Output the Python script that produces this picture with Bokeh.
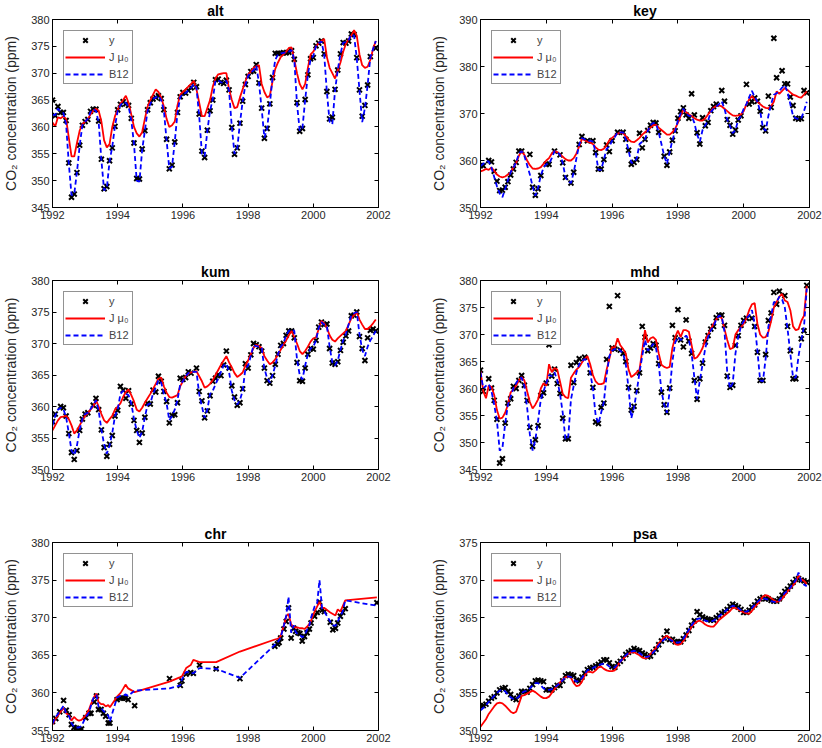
from bokeh.plotting import figure
from bokeh.layouts import column, row
from bokeh.models import Range1d, FixedTicker, LinearAxis
from bokeh.embed import file_html
from bokeh.resources import INLINE

FONT = "Liberation Sans"
N = None

# monthly time axis Jan 1992 .. Dec 2001
months = [1992 + i / 12 for i in range(120)]
x_ticks = [1992, 1994, 1996, 1998, 2000, 2002]

# ---------------- alt ----------------
alt_y = [
    365.0, 362.1, 363.8, 362.7, 362.7, 361.2, 353.3, 346.9, 347.5, 351.5, 356.6, 360.3,
    361.0, 361.4, 362.9, 363.3, 363.3, 361.1, 354.0, 348.5, 348.9, 353.7, 356.1, 360.1,
    363.2, 364.2, 364.7, 364.3, 364.0, 361.6, 357.0, 350.4, 350.3, 355.9, 359.3, 363.2,
    364.5, 365.2, 365.5, 365.8, 365.3, 363.2, 357.7, 352.2, 352.9, 357.2, 362.7, 365.6,
    366.4, 366.3, 366.8, 367.3, 368.3, 367.5, 362.4, 355.5, 354.3, 359.4, 363.0, 365.0,
    368.8, 368.9, 368.3, 368.1, 368.7, 366.9, 359.9, 354.9, 356.1, 360.7, 364.8, 367.9,
    369.4, 370.3, 370.4, 371.6, 368.2, 363.5, 357.9, 359.7, 364.3, 369.2, 373.7, 373.7,
    373.7, 373.8, 373.8, 373.9, 374.2, 372.6, 364.5, 359.2, 359.7, 365.1, 369.7, 372.7,
    372.9, 375.1, 375.6, 376.0, 373.6, 366.6, 361.5, 361.8, 367.0, 370.6, 373.6, 375.7,
    375.6, 376.0, 377.3, 377.2, 372.9, 366.9, 362.0, 364.0, 367.8, 373.1, N, 374.7,
]
alt_j = [
    360.8, 360.1, 361.8, 361.6, 362.0, 361.5, 358.0, 354.5, 354.5, 357.0, 359.3, 360.5,
    361.0, 361.5, 362.3, 363.0, 363.4, 363.0, 361.0, 357.5, 356.2, 356.8, 360.0, 362.0,
    363.2, 364.3, 365.0, 365.8, 364.5, 362.3, 360.0, 358.8, 358.2, 359.0, 361.5, 363.8,
    365.0, 366.0, 367.0, 366.5, 365.5, 363.8, 361.5, 360.0, 360.3, 361.0, 364.0, 366.0,
    366.5, 367.0, 367.5, 368.0, 368.6, 367.0, 364.5, 362.0, 362.0, 363.5, 365.0, 367.5,
    369.0, 369.8, 369.9, 370.0, 370.0, 367.0, 365.0, 363.5, 363.7, 365.5, 367.0, 368.5,
    369.8, 370.3, 371.0, 371.3, 371.5, 368.0, 366.5, 365.5, 365.8, 368.5, 370.8, 372.0,
    373.0, 373.5, 374.0, 374.7, 374.8, 372.5, 370.0, 368.0, 367.0, 368.0, 371.0, 373.5,
    374.0, 375.0, 375.6, 376.0, 376.4, 373.0, 371.0, 370.0, 369.0, 370.5, 372.0, 374.0,
    375.5, 376.3, 377.0, 378.0, 377.0, 373.5, 371.5, 371.0, 371.2, 372.5, 374.5, 376.0,
]
alt_b = [
    362.3, 362.2, 363.4, 362.8, 362.6, 360.5, 353.2, 347.3, 347.5, 351.6, 356.5, 360.3,
    361.0, 361.5, 362.8, 363.3, 363.0, 360.8, 353.8, 348.2, 348.6, 353.6, 356.3, 360.2,
    363.0, 364.0, 364.6, 364.5, 363.8, 361.3, 356.8, 350.0, 349.8, 355.7, 359.3, 363.0,
    364.3, 365.2, 365.5, 365.8, 365.0, 363.0, 357.5, 352.2, 352.6, 357.2, 362.6, 365.5,
    366.2, 366.3, 366.8, 367.3, 368.0, 367.3, 362.0, 355.0, 354.5, 359.3, 363.0, 365.2,
    368.6, 368.7, 368.3, 368.2, 368.6, 366.7, 360.0, 355.0, 356.0, 360.7, 364.8, 367.8,
    369.5, 370.2, 370.5, 371.4, 368.2, 363.3, 358.0, 359.7, 364.2, 369.2, 372.5, 373.5,
    373.7, 373.8, 373.9, 374.0, 374.3, 372.5, 364.3, 359.3, 359.8, 365.0, 369.7, 372.6,
    373.2, 375.0, 375.6, 375.9, 373.5, 366.5, 361.0, 360.5, 366.8, 370.6, 373.6, 375.7,
    375.8, 376.2, 377.2, 377.0, 372.8, 366.8, 360.9, 363.5, 367.8, 373.0, 374.5, 376.0,
]

# ---------------- key ----------------
key_y = [
    358.9, 358.9, N, 360.0, 359.7, 357.7, 355.6, 353.6, 353.7, 354.3, 355.5, 356.9,
    358.2, 359.6, 362.0, 362.0, N, N, 361.3, 354.3, 352.6, 354.0, 356.8, N,
    359.2, 359.2, N, 362.0, N, 361.2, 359.5, 356.4, N, 355.2, 357.5, N,
    363.4, 365.1, N, 364.2, N, 364.2, 361.7, 358.2, 358.2, 360.2, 363.3, 361.9,
    364.2, N, 366.0, N, 366.0, 364.5, 362.2, 359.2, 359.6, 360.2, 365.8, 362.7,
    364.5, 366.4, 367.5, 368.1, 368.0, 366.0, N, 360.9, 359.0, 361.8, 364.3, 366.3,
    369.0, 370.4, 371.2, 369.7, 369.0, 374.2, 369.7, 365.9, 363.5, 369.1, 367.4, 368.1,
    370.6, 371.5, 372.0, N, 374.9, 372.6, 368.7, 367.5, 365.6, 366.5, 368.6, 369.5,
    N, 376.2, 372.0, 372.5, 373.3, 372.6, 370.5, 367.0, 366.3, 373.7, 371.3, 386.0,
    377.6, N, 379.1, 376.3, 376.3, 373.5, 371.7, 369.0, 368.8, 368.9, 374.9, 374.4,
]
key_j = [
    357.7, 357.9, 358.2, 358.0, 358.5, 357.8, 357.0, 356.6, 356.4, 356.6, 357.0, 357.5,
    358.5, 359.5, 361.0, 362.0, 361.2, 360.0, 359.0, 358.3, 358.2, 358.3, 358.6, 359.3,
    360.0, 360.5, 361.5, 362.0, 361.8, 361.3, 360.8, 360.3, 360.0, 360.0, 360.5, 361.5,
    363.0, 364.6, 364.3, 364.0, 363.8, 363.5, 362.8, 362.3, 362.2, 362.5, 363.3, 364.3,
    364.8, 365.3, 365.7, 366.0, 365.8, 365.2, 364.5, 364.0, 363.9, 364.3, 364.8, 365.5,
    366.0, 366.5, 367.0, 367.5, 367.6, 367.0, 366.5, 366.0, 365.5, 365.5, 366.0, 366.8,
    368.0, 369.5, 370.8, 370.3, 369.8, 369.5, 369.0, 368.7, 368.5, 368.5, 369.0, 369.8,
    370.5, 371.2, 371.6, 371.7, 371.5, 371.0, 370.5, 370.0, 369.6, 369.5, 369.6, 369.8,
    370.5, 372.0, 373.0, 373.7, 373.0, 372.5, 372.0, 371.5, 371.2, 371.1, 371.6, 372.5,
    374.7, 374.2, 374.8, 375.4, 375.0, 374.5, 374.0, 373.8, 373.5, 373.4, 374.0, 374.7,
]
key_b = [
    358.8, 359.3, 359.8, 359.8, 358.5, 356.5, 354.5, 353.0, 352.2, 354.0, 355.8, 357.5,
    358.5, 359.6, 361.5, 362.0, 361.0, 359.0, 357.0, 354.5, 352.5, 354.2, 356.8, 358.5,
    359.2, 359.3, 360.5, 362.0, 361.8, 361.2, 359.5, 356.4, 355.5, 355.2, 357.5, 360.5,
    363.4, 364.8, 364.5, 364.2, 364.2, 364.0, 361.7, 358.0, 358.0, 360.2, 362.5, 363.0,
    364.2, 365.0, 366.0, 366.0, 366.0, 364.5, 362.2, 359.5, 359.6, 360.5, 363.5, 364.0,
    364.5, 366.3, 367.5, 368.0, 367.8, 366.0, 363.5, 361.0, 359.3, 361.8, 364.3, 366.3,
    368.5, 370.0, 371.0, 370.0, 369.5, 369.5, 368.0, 365.5, 364.0, 366.5, 367.5, 368.5,
    370.3, 371.0, 371.5, 372.0, 372.6, 371.0, 368.7, 367.3, 365.8, 366.5, 368.6, 369.5,
    371.0, 372.0, 373.5, 374.8, 373.5, 372.5, 370.5, 367.0, 366.3, 369.5, 372.0, 374.0,
    374.3, 374.8, 375.5, 376.0, 374.5, 372.0, 369.5, 369.0, 368.8, 369.0, 370.5, 372.5,
]

# ---------------- kum ----------------
kum_y = [
    357.6, 358.8, N, 360.0, 359.8, 358.5, 355.7, 352.7, 351.6, 353.0, 356.2, 358.0,
    358.8, 359.0, N, 360.2, 361.3, 359.5, 356.3, 353.5, 352.1, 354.0, 355.4, 358.5,
    359.4, 363.2, 362.6, 361.3, 362.5, 360.4, 357.8, 356.2, 354.3, 355.8, 358.3, 360.5,
    360.4, 362.6, 362.3, 364.8, 364.0, 362.4, 360.8, 357.4, 358.6, 358.7, 360.6, 364.5,
    364.3, 364.6, 365.5, 365.3, N, 366.1, 362.4, 360.9, 358.2, 359.3, 361.7, 364.0,
    364.5, 365.0, 364.9, 366.6, 368.8, 366.1, 363.3, 361.5, 360.2, 360.6, 362.8, 366.8,
    366.1, 368.2, 370.0, 369.8, 369.5, 368.8, 366.1, 364.1, 363.7, 364.9, 366.7, 368.3,
    369.7, 370.0, 371.3, 372.0, 372.0, 370.9, 367.0, 364.1, 364.0, 366.1, 368.3, 369.2,
    369.1, 370.5, 372.6, 373.4, 373.0, 373.1, 369.2, 366.9, 366.7, 367.1, 368.9, 370.2,
    371.2, 372.0, 374.4, 374.5, 375.0, 371.1, 369.2, 367.3, 370.9, 372.1, 372.3, 372.0,
]
kum_j = [
    356.2, 357.0, 357.8, 358.3, 358.4, 358.5, 358.0, 357.0, 355.7, 356.2, 357.0, 357.8,
    358.5, 359.0, 359.5, 360.0, 361.0, 360.0, 358.8, 357.8, 357.4, 358.0, 358.5, 359.5,
    360.0, 360.5, 361.5, 362.3, 362.7, 361.8, 360.8, 359.5, 359.2, 359.8, 360.6, 361.3,
    362.0, 362.8, 363.6, 364.4, 364.6, 363.2, 362.2, 361.5, 361.4, 361.6, 361.8, 363.2,
    364.0, 364.8, 365.2, 365.4, 365.5, 365.6, 364.8, 364.0, 363.0, 363.2, 363.6, 364.2,
    365.0, 365.8, 366.6, 367.3, 368.0, 367.0, 366.2, 365.3, 364.7, 365.0, 365.4, 366.5,
    367.3, 368.3, 369.3, 369.8, 369.6, 369.3, 368.0, 367.3, 366.7, 367.0, 367.5, 368.3,
    369.0, 369.8, 370.5, 371.3, 372.0, 371.0, 370.0, 368.8, 368.3, 368.8, 369.5, 370.3,
    370.8, 371.0, 372.3, 373.6, 373.2, 372.5, 371.3, 370.6, 370.3, 370.8, 371.2, 371.6,
    372.0, 373.0, 374.0, 374.5, 375.0, 373.8, 373.0, 372.3, 372.3, 372.7, 373.2, 373.8,
]
kum_b = [
    357.0, 358.5, 359.5, 359.8, 359.6, 358.3, 355.8, 353.0, 352.3, 353.8, 356.3, 358.0,
    358.8, 359.0, 359.6, 360.2, 361.0, 359.3, 356.3, 354.0, 352.5, 353.8, 355.8, 358.5,
    359.5, 362.0, 362.5, 362.0, 361.8, 360.5, 358.0, 356.2, 355.0, 356.0, 358.3, 360.3,
    360.5, 362.0, 363.0, 364.2, 363.8, 362.0, 360.5, 357.8, 358.5, 359.5, 361.0, 363.5,
    364.0, 364.8, 365.3, 365.5, 365.5, 365.5, 362.0, 360.0, 358.2, 359.5, 362.0, 362.5,
    363.5, 364.5, 365.5, 366.5, 366.8, 365.5, 362.5, 361.0, 360.3, 361.0, 362.5, 366.0,
    366.5, 368.0, 369.7, 369.6, 369.5, 369.3, 366.0, 364.5, 363.8, 365.0, 366.5, 368.3,
    369.5, 370.0, 371.3, 372.0, 372.2, 372.0, 367.5, 365.0, 364.3, 366.5, 368.3, 369.2,
    369.5, 370.5, 372.5, 373.4, 373.0, 372.8, 369.5, 367.0, 366.5, 367.3, 369.0, 370.5,
    371.5, 373.0, 374.5, 374.8, 375.0, 371.5, 369.0, 368.0, 369.5, 370.5, 371.2, 372.0,
]

# ---------------- mhd ----------------
mhd_y = [
    363.4, 359.5, N, 361.8, 360.1, 357.8, 354.3, 346.2, 347.0, 353.6, 357.3, 358.1,
    360.4, 360.0, 361.5, 362.4, 360.6, 357.8, 352.8, 349.3, 350.5, 353.1, 358.7, 359.2,
    361.0, 368.1, 362.3, 363.6, 360.9, 359.1, 354.5, 350.7, 350.7, 364.3, 361.1, 364.8,
    365.5, N, 365.8, N, 362.9, 360.2, 353.8, 353.5, 356.5, 357.3, 365.4, 375.2,
    367.5, 367.3, 377.2, 367.1, 366.5, 365.0, 360.2, 356.0, 356.7, 359.6, 362.9, 371.5,
    369.5, 367.0, 367.5, 368.3, 368.0, 364.6, 359.3, 357.0, 355.6, 360.1, 371.7, 369.4,
    374.6, 369.0, 367.7, 372.7, 368.8, 366.5, 361.5, 358.0, 361.8, 364.7, 368.6, 369.8,
    371.0, 371.5, 373.1, 373.6, 373.6, 371.7, 362.3, 360.2, 360.6, 368.0, 369.8, 371.7,
    372.6, 373.0, N, 373.0, 371.5, 366.7, 361.5, 361.5, 366.3, 372.6, 374.0, 377.8,
    375.6, 378.0, N, 377.2, 371.5, 367.0, 361.8, 361.8, N, 369.2, 370.7, 379.1,
]
mhd_j = [
    363.2, 359.5, 358.2, 360.5, 360.3, 358.8, 356.0, 354.4, 354.6, 355.5, 357.0, 359.3,
    359.8, 360.5, 361.5, 362.1, 361.5, 359.5, 357.5, 356.3, 357.0, 358.0, 360.0, 361.0,
    360.5, 364.5, 363.0, 363.8, 363.5, 361.3, 359.0, 358.4, 358.2, 362.0, 362.8, 363.5,
    364.0, 364.8, 365.5, 366.0, 364.5, 362.5, 361.3, 360.8, 360.8, 361.0, 363.5, 365.5,
    367.7, 367.5, 369.3, 368.0, 367.3, 366.5, 363.5, 362.1, 362.5, 363.0, 363.5, 367.0,
    370.8, 368.5, 369.3, 369.5, 369.0, 366.5, 364.4, 364.0, 363.8, 364.0, 367.5, 369.5,
    370.7, 369.5, 370.8, 370.8, 370.5, 368.0, 365.5, 365.8, 366.5, 367.5, 369.0, 370.0,
    371.0, 372.0, 372.8, 373.5, 373.0, 371.0, 369.0, 367.3, 367.5, 370.0, 370.8, 371.3,
    372.0, 373.0, 374.5, 375.6, 375.8, 372.0, 370.0, 369.4, 369.5, 370.5, 372.5, 375.0,
    376.0, 377.0, 377.5, 376.3, 376.0, 374.5, 371.5, 370.8, 371.0, 372.5, 373.5, 379.0,
]
mhd_b = [
    363.0, 360.0, 360.5, 360.8, 359.5, 357.0, 354.0, 348.5, 349.0, 353.5, 357.0, 358.5,
    360.0, 361.0, 361.8, 362.0, 360.5, 356.5, 351.5, 348.5, 350.5, 354.0, 358.0, 359.5,
    361.0, 362.5, 362.3, 363.0, 361.5, 359.0, 355.5, 350.5, 351.0, 358.0, 360.5, 363.0,
    364.5, 365.0, 365.5, 365.0, 363.0, 360.0, 355.0, 353.5, 355.5, 357.5, 362.5, 366.0,
    367.0, 367.3, 367.5, 367.0, 366.5, 364.5, 360.0, 354.5, 356.5, 359.5, 363.0, 366.0,
    369.0, 367.0, 367.5, 368.3, 367.5, 364.5, 359.5, 357.0, 355.5, 359.5, 365.0, 368.5,
    369.5, 369.0, 369.3, 369.8, 369.0, 366.5, 362.0, 358.0, 361.5, 364.5, 367.5, 369.5,
    370.8, 371.5, 372.8, 373.5, 373.3, 370.5, 363.0, 360.0, 361.0, 366.5, 369.5, 371.5,
    372.5, 373.0, 373.5, 374.5, 372.0, 367.0, 361.5, 361.3, 365.5, 371.5, 373.5, 376.0,
    376.0, 377.0, 376.5, 375.0, 371.0, 366.5, 362.0, 362.0, 366.0, 369.0, 371.5, 378.5,
]

# ---------------- chr (irregular sampling) ----------------
chr_x = [
    1992.00, 1992.10, 1992.22, 1992.34, 1992.42, 1992.51, 1992.58, 1992.66, 1992.73, 1992.81,
    1992.89, 1993.02, 1993.12, 1993.18, 1993.28, 1993.35, 1993.41, 1993.49, 1993.56, 1993.63,
    1993.71, 1993.76, 1993.98, 1994.09, 1994.16, 1994.24, 1994.32, 1994.52, 1995.59, 1995.92,
    1995.97, 1996.10, 1996.24, 1996.32, 1996.51, 1997.02, 1997.75, 1998.82, 1998.90, 1998.95,
    1999.00, 1999.10, 1999.17, 1999.24, 1999.32, 1999.40, 1999.46, 1999.53, 1999.59, 1999.66,
    1999.73, 1999.81, 1999.88, 1999.93, 2000.04, 2000.12, 2000.19, 2000.27, 2000.34, 2000.52,
    2000.60, 2000.68, 2000.75, 2000.83, 2000.90, 2000.98, 2001.95,
]
chr_y = [
    356.2, 356.6, 357.5, 359.0, 357.7, 357.1, 355.8, 355.4, 355.3, 355.2,
    355.2, 356.7, 357.3, 357.3, 358.8, 359.6, 357.8, 357.8, 357.3, 356.9,
    356.0, 356.0, 359.1, 359.3, 359.3, 359.3, 359.1, 358.3, 361.9, 361.0,
    361.6, 362.5, 362.7, 362.6, 363.7, 363.2, 361.9, 366.2, 366.5, 366.7,
    367.3, 368.5, 369.5, 371.3, 367.3, 368.6, 368.2, 368.0, 367.9, 366.9,
    367.5, 368.0, 368.5, 369.3, 370.2, 370.7, 372.1, 371.0, 370.8, 369.4,
    368.4, 368.6, 369.3, 370.2, 370.7, 371.2, 372.0,
]
chr_j = [
    355.8, 356.6, 357.3, 358.0, 357.3, 357.0, 356.3, 356.8, 356.5, 356.3,
    356.4, 357.0, 357.8, 358.5, 359.5, 359.9, 358.8, 358.5, 358.5, 358.2,
    358.4, 358.1, 359.5, 360.0, 360.5, 361.1, 360.6, 360.1, 361.5, 362.1,
    362.2, 363.3, 363.7, 364.4, 364.1, 364.1, 365.5, 367.1, 367.2, 367.3,
    367.6, 369.0, 370.2, 370.5, 369.1, 368.8, 368.7, 368.7, 368.6, 368.6,
    368.5, 368.8, 369.2, 369.6, 370.8, 371.5, 372.1, 371.3, 371.3, 370.7,
    370.5, 370.3, 371.1, 370.8, 371.5, 372.3, 372.7,
]
chr_b = [
    355.9, 356.8, 357.5, 358.3, 357.2, 356.9, 356.0, 355.5, 355.4, 355.4,
    355.6, 356.8, 357.4, 358.3, 359.6, 359.7, 358.2, 358.0, 357.6, 357.3,
    357.0, 356.2, 359.4, 359.6, 359.6, 359.8, 359.6, 360.3, 360.6, 361.0,
    361.8, 362.8, 362.7, 362.6, 363.3, 363.2, 362.0, 366.4, 366.7, 367.0,
    367.4, 369.0, 370.3, 372.8, 368.0, 369.0, 368.1, 367.8, 367.7, 367.4,
    367.7, 368.4, 369.0, 370.0, 371.5, 372.0, 375.0, 371.2, 370.8, 369.5,
    369.0, 368.9, 369.5, 370.2, 370.8, 372.3, 371.6,
]

# ---------------- psa ----------------
psa_y = [
    353.3, 353.3, 353.5, 353.9, 354.3, 354.5, 355.0, 355.4, 355.6, 355.7, 355.2, 354.8,
    354.3, 354.1, 354.6, 355.2, 355.2, 355.1, 355.6, 356.1, 356.6, 356.7, 356.6, 356.5,
    355.4, 355.4, 355.4, 355.7, 356.0, 356.0, 356.6, 357.3, 357.5, 357.4, 357.3, 356.7,
    356.6, 357.1, 357.6, 358.1, 358.3, 358.4, 358.6, 358.8, 359.1, 359.4, 359.4, 359.0,
    358.5, 358.4, 358.9, 359.2, 359.6, 360.1, 360.4, 360.6, 360.9, 360.7, 360.6, 360.3,
    360.1, 359.8, 359.9, 360.4, 360.8, 361.4, 361.9, 362.3, 363.2, 362.1, 362.1, 361.8,
    361.8, 361.8, 362.2, 362.7, 363.3, 364.0, 364.6, 365.8, 365.4, 365.1, 364.9, 364.8,
    364.7, 364.7, 365.0, 365.3, 365.6, 365.8, 366.1, 366.5, 366.8, 366.6, 366.4, 366.1,
    365.7, 365.7, 366.0, 366.4, 366.7, 367.2, 367.5, 367.7, 367.5, 367.5, 367.3, 367.2,
    367.2, 367.5, 368.0, 368.5, 368.8, 369.2, 369.7, 370.1, 370.2, 370.0, 369.9, 369.7,
]
psa_j = [
    350.5, 351.0, 351.5, 352.2, 352.7, 353.2, 353.6, 353.7, 353.6, 353.3, 352.9, 352.5,
    352.3, 352.5, 353.5, 354.6, 354.7, 354.9, 355.1, 355.3, 355.1, 354.8, 354.5, 354.3,
    354.3, 354.5, 355.0, 355.5, 356.0, 356.4, 356.8, 357.1, 357.2, 357.0, 356.3, 355.9,
    356.0, 356.5, 357.3, 357.8, 357.8, 357.7, 358.0, 358.4, 358.5, 358.2, 358.0, 357.9,
    357.9, 358.0, 358.6, 359.2, 359.5, 359.9, 360.2, 360.4, 360.4, 360.2, 360.0, 359.7,
    359.6, 359.7, 360.2, 360.6, 361.0, 361.6, 362.0, 362.4, 362.6, 362.3, 362.0, 361.5,
    361.4, 361.5, 361.9, 362.5, 363.2, 363.8, 364.2, 364.5, 364.6, 364.4, 364.1, 363.9,
    363.8, 363.8, 364.2, 364.7, 365.0, 365.3, 365.6, 365.9, 366.3, 366.3, 366.1, 365.9,
    365.7, 365.6, 365.5, 365.9, 366.4, 366.8, 367.3, 367.8, 368.0, 367.9, 367.6, 367.3,
    367.1, 367.2, 367.5, 368.0, 368.5, 368.9, 369.3, 369.8, 370.6, 370.1, 369.9, 369.5,
]
psa_b = [
    352.7, 353.0, 353.4, 353.8, 354.2, 354.6, 355.0, 355.3, 355.4, 355.2, 354.8, 354.4,
    354.2, 354.2, 354.5, 355.0, 355.2, 355.3, 355.6, 356.0, 356.3, 356.3, 356.0, 355.6,
    355.4, 355.4, 355.5, 355.7, 356.0, 356.3, 356.7, 357.1, 357.2, 357.1, 356.8, 356.5,
    356.6, 357.0, 357.5, 358.0, 358.2, 358.3, 358.5, 358.7, 358.8, 358.9, 358.8, 358.5,
    358.3, 358.4, 358.8, 359.2, 359.6, 360.0, 360.3, 360.5, 360.6, 360.5, 360.3, 360.0,
    359.8, 359.8, 360.0, 360.4, 360.8, 361.3, 361.8, 362.1, 362.3, 362.1, 361.9, 361.7,
    361.7, 361.8, 362.2, 362.8, 363.4, 364.0, 364.5, 364.8, 364.9, 364.8, 364.6, 364.5,
    364.5, 364.6, 364.9, 365.2, 365.5, 365.8, 366.1, 366.4, 366.6, 366.5, 366.3, 366.0,
    365.8, 365.8, 366.0, 366.3, 366.7, 367.1, 367.4, 367.6, 367.5, 367.4, 367.2, 367.1,
    367.1, 367.3, 367.8, 368.3, 368.6, 369.0, 369.5, 370.0, 371.0, 369.8, 369.4, 369.2,
]


def style_axis(ax, ticks, show_labels=True):
    ax.ticker = FixedTicker(ticks=ticks)
    ax.major_tick_in = 4
    ax.major_tick_out = 0
    ax.minor_tick_line_color = None
    ax.axis_line_color = "black"
    ax.major_tick_line_color = "black"
    ax.major_label_text_font = FONT
    if show_labels:
        ax.major_label_text_color = "#262626"
        ax.major_label_text_font_size = "11px"
        ax.major_label_standoff = 3
    else:
        ax.major_label_text_color = None
        ax.major_label_text_alpha = 0
        ax.major_label_text_font_size = "0px"
        ax.major_label_standoff = 0


def panel(name, ox, oy, lx, jv, bv, y0, y1, ystep, w, h, bl, br, bt, bb):
    yt = list(range(y0, y1 + 1, ystep))
    p = figure(width=w, height=h, output_backend="svg", toolbar_location=None,
               x_range=Range1d(1992, 2002), y_range=Range1d(y0, y1),
               min_border_left=bl, min_border_right=br,
               min_border_top=bt, min_border_bottom=bb,
               background_fill_color="white", border_fill_color="white")
    p.title.text = name
    p.title.align = "center"
    p.title.text_font = FONT
    p.title.text_font_size = "14px"
    p.title.text_font_style = "bold"
    p.title.text_color = "black"
    p.title.standoff = 1
    p.grid.visible = False
    p.outline_line_color = "black"
    p.outline_line_width = 1

    style_axis(p.xaxis[0], x_ticks)
    style_axis(p.yaxis[0], yt)
    p.yaxis.axis_label = "CO\u2082 concentration (ppm)"
    p.yaxis.axis_label_text_font = FONT
    p.yaxis.axis_label_text_font_size = "14px"
    p.yaxis.axis_label_text_font_style = "normal"
    p.yaxis.axis_label_text_color = "#262626"
    p.yaxis.axis_label_standoff = 9

    top = LinearAxis()
    style_axis(top, x_ticks, show_labels=False)
    top.axis_line_color = None
    p.add_layout(top, "above")
    right = LinearAxis()
    style_axis(right, yt, show_labels=False)
    right.axis_line_color = None
    p.add_layout(right, "right")

    px = [x for x, v in zip(ox, oy) if v is not None]
    pv = [v for v in oy if v is not None]
    p.scatter(px, pv, marker="x", size=7, line_width=2, line_color="black",
              legend_label="y")
    p.line(lx, jv, line_color="#ff0000", line_width=1.8, legend_label="J \u03bc\u2080")
    p.line(lx, bv, line_color="#0000ff", line_width=1.8, line_dash="5 3",
           legend_label="B12")

    leg = p.legend[0]
    leg.location = "top_left"
    leg.margin = 11
    leg.padding = 1
    leg.spacing = 1
    leg.glyph_width = 40
    leg.glyph_height = 16
    leg.label_height = 16
    leg.label_width = 22
    leg.label_standoff = 4
    leg.label_text_font = FONT
    leg.label_text_font_size = "11px"
    leg.border_line_color = "#262626"
    leg.border_line_width = 1
    leg.background_fill_alpha = 1.0
    return p


W = 411
LB, LR = 50, 33
RB, RR = 69, 13

p1 = panel("alt", months, alt_y, months, alt_j, alt_b, 345, 380, 5, W, 250, LB, LR, 19, 43)
p2 = panel("key", months, key_y, months, key_j, key_b, 350, 390, 10, W, 250, RB, RR, 19, 43)
p3 = panel("kum", months, kum_y, months, kum_j, kum_b, 350, 380, 5, W, 261, LB, LR, 30, 42)
p4 = panel("mhd", months, mhd_y, months, mhd_j, mhd_b, 345, 380, 5, W, 261, RB, RR, 30, 42)
p5 = panel("chr", chr_x, chr_y, chr_x, chr_j, chr_b, 355, 380, 5, W, 237, LB, LR, 31, 18)
p6 = panel("psa", months, psa_y, months, psa_j, psa_b, 350, 375, 5, W, 237, RB, RR, 31, 18)

layout = column(row(p1, p2), row(p3, p4), row(p5, p6))

open("out.html", "w").write(file_html(layout, INLINE))
